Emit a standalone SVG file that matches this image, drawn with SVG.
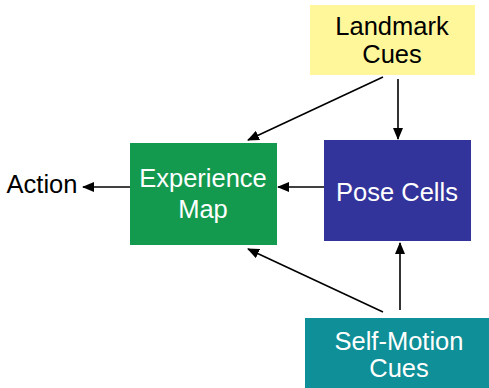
<svg xmlns="http://www.w3.org/2000/svg" width="489" height="388" viewBox="0 0 489 388">
<defs>
<marker id="ah" markerWidth="12" markerHeight="10" refX="11" refY="5" orient="auto" markerUnits="userSpaceOnUse">
<path d="M0,0 L12,5 L0,10 Z" fill="#000"/>
</marker>
<style>
text{font-family:"Liberation Sans",Arial,sans-serif;font-size:25.5px;text-anchor:middle}
.w{fill:#fff}
.k{fill:#000}
.c{stroke:#000;stroke-width:1.6;fill:none;marker-end:url(#ah)}
</style>
</defs>
<rect width="489" height="388" fill="#fff"/>
<g id="landmark">
<rect x="310" y="5" width="165" height="70" fill="#fff799"/>
<text class="k" x="392" y="35">Landmark</text>
<text class="k" x="392" y="63">Cues</text>
</g>
<g id="pose">
<rect x="324" y="140" width="147" height="101" fill="#33349b"/>
<text class="w" x="397" y="201">Pose Cells</text>
</g>
<g id="experience">
<rect x="130" y="143" width="147" height="102" fill="#139a4f"/>
<text class="w" x="203" y="187">Experience</text>
<text class="w" x="203" y="218">Map</text>
</g>
<g id="selfmotion">
<rect x="305" y="318" width="184" height="70" fill="#0f8f97"/>
<text class="w" x="399" y="350">Self-Motion</text>
<text class="w" x="399" y="377">Cues</text>
</g>
<g id="action">
<text class="k" x="42" y="193">Action</text>
</g>
<g id="connectors">
<line class="c" x1="398" y1="79" x2="398" y2="139"/>
<line class="c" x1="383" y1="77" x2="248" y2="140"/>
<line class="c" x1="324" y1="187" x2="278" y2="187"/>
<line class="c" x1="130" y1="187" x2="83" y2="187"/>
<line class="c" x1="400" y1="310" x2="400" y2="243"/>
<line class="c" x1="383" y1="312" x2="248" y2="249"/>
</g>
</svg>
